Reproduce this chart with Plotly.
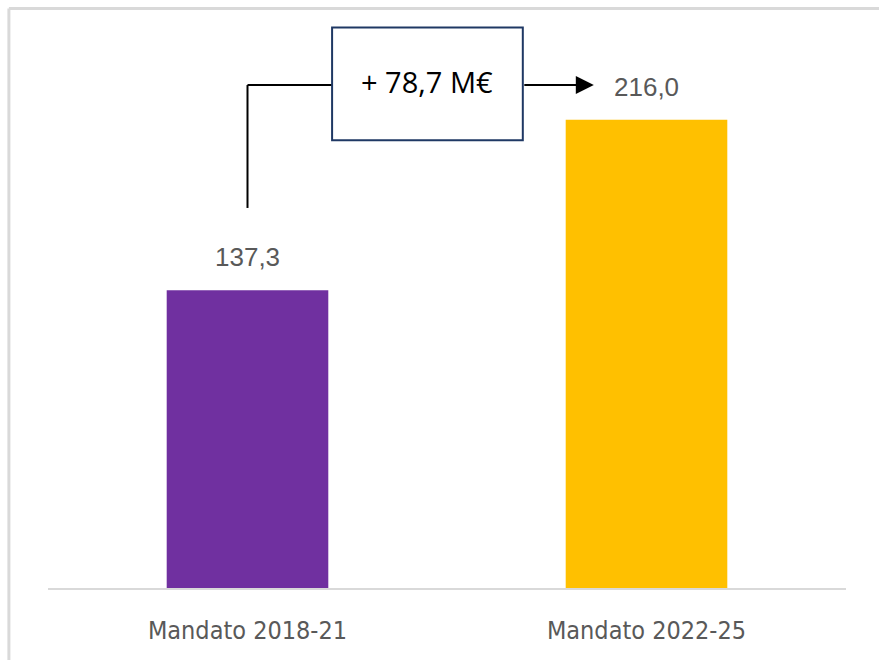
import plotly.graph_objects as go

categories = ["Mandato 2018-21", "Mandato 2022-25"]
values = [137.3, 216.0]
value_labels = ["137,3", "216,0"]
bar_colors = ["#7030A0", "#FFC000"]
delta_label = "+ 78,7 M€"

fig = go.Figure()
fig.add_trace(go.Bar(
    x=[0, 1], y=values, marker=dict(color=bar_colors, line=dict(width=0)),
    width=0.405, hoverinfo="skip", showlegend=False,
))

gray = "#595959"
for i, (v, t) in enumerate(zip(values, value_labels)):
    fig.add_annotation(x=i, y=v, text=t, showarrow=False, yanchor="bottom",
                       yshift=16, font=dict(size=26, color=gray,
                                            family="Liberation Sans, Arial, sans-serif"))

# connector geometry derived from data
y_conn = values[1] + 16
y_start = values[0] + 38
box_x0, box_x1 = 0.212, 0.690
box_y0, box_y1 = values[1] - 9.5, values[1] + 42.5

fig.add_shape(type="line", xref="x", yref="y", x0=0, x1=0, y0=y_start, y1=y_conn,
              line=dict(color="black", width=2))
fig.add_shape(type="line", xref="x", yref="y", x0=0, x1=box_x0, y0=y_conn, y1=y_conn,
              line=dict(color="black", width=2))
fig.add_shape(type="rect", xref="x", yref="y", x0=box_x0, x1=box_x1, y0=box_y0, y1=box_y1,
              line=dict(color="#1F3864", width=2), fillcolor="white")
fig.add_annotation(x=(box_x0 + box_x1) / 2, y=(box_y0 + box_y1) / 2 + 1, text=delta_label,
                   showarrow=False, font=dict(size=29, color="black",
                                               family="Open Sans, Noto Sans, sans-serif"))
fig.add_annotation(x=0.868, y=y_conn, ax=box_x1, ay=y_conn, axref="x", ayref="y",
                   xref="x", yref="y", text="", showarrow=True, arrowhead=2,
                   arrowsize=1.8, arrowwidth=2, arrowcolor="black")

# outer frame
fig.add_shape(type="line", xref="paper", yref="paper", x0=-0.049, x1=1.1, y0=1.0202, y1=1.0202,
              line=dict(color="#D9D9D9", width=3))
fig.add_shape(type="line", xref="paper", yref="paper", x0=-0.049, x1=-0.049, y0=-0.2, y1=1.0202,
              line=dict(color="#D9D9D9", width=3))

fig.update_xaxes(
    range=[-0.5, 1.5], tickmode="array", tickvals=[0, 1], ticktext=categories,
    showgrid=False, zeroline=False, showline=True, linecolor="#D9D9D9", linewidth=2,
    ticks="", ticklabelstandoff=19,
    tickfont=dict(size=25, color=gray,
                  family="DejaVu Sans Condensed, Liberation Sans, sans-serif"),
)
fig.update_yaxes(range=[0, 262], visible=False, showgrid=False, zeroline=False)

fig.update_layout(
    width=879, height=660, margin=dict(l=48, r=33, t=20, b=72),
    plot_bgcolor="white", paper_bgcolor="white",
)

fig.write_html("out.html", config={"displayModeBar": False},
               post_script="document.body.style.margin='0px';")
